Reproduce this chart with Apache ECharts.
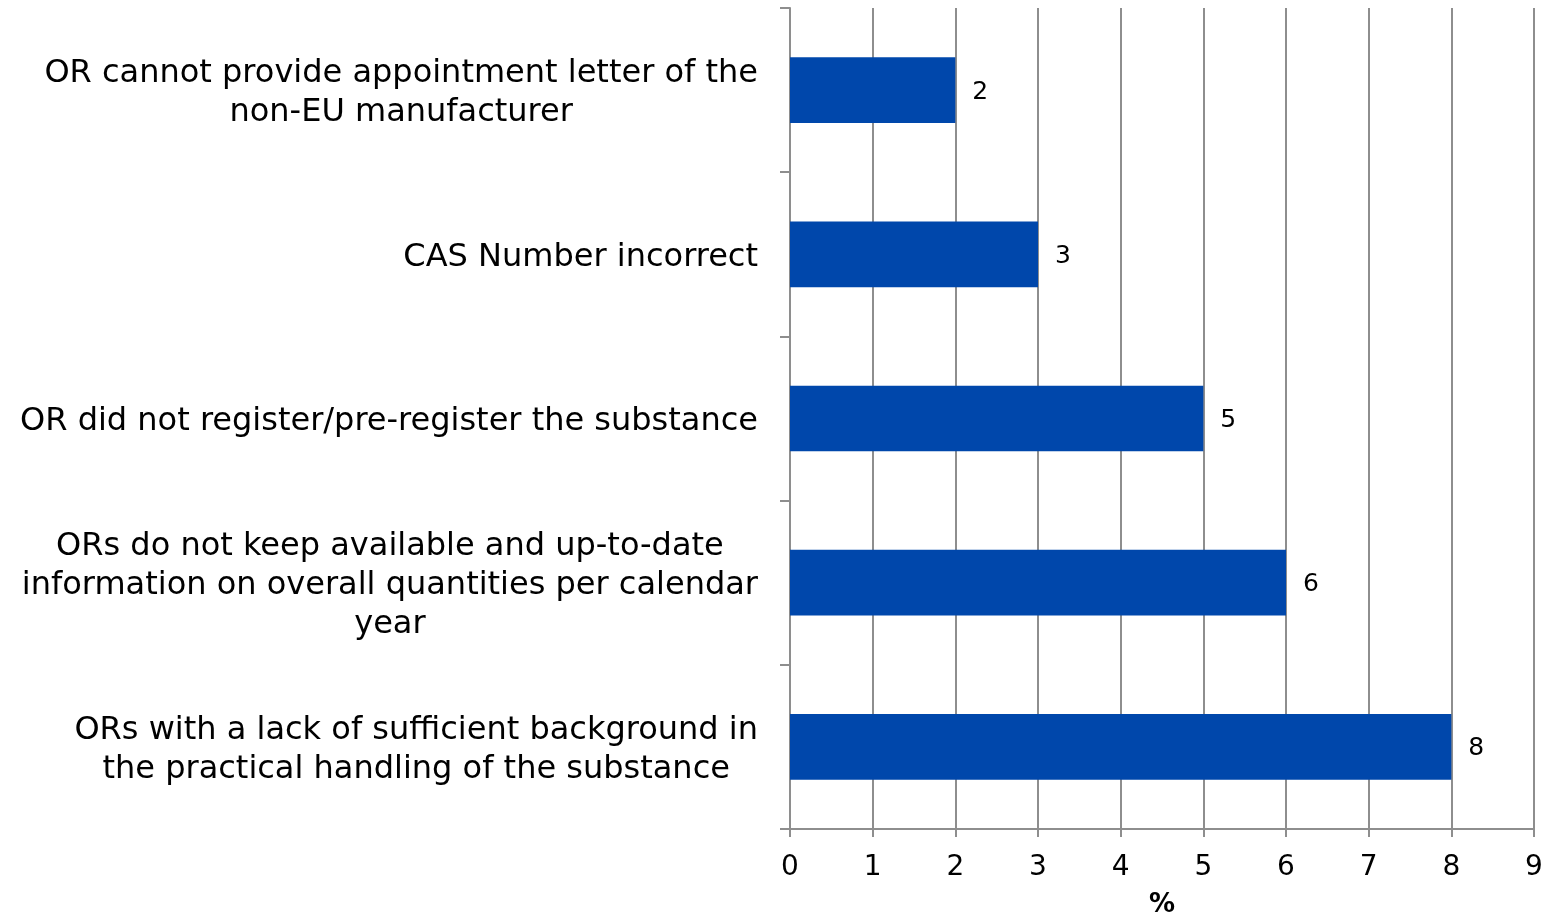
<!DOCTYPE html>
<html>
<head>
<meta charset="utf-8">
<title>OR issues</title>
<script src="https://cdn.jsdelivr.net/npm/echarts@6/dist/echarts.min.js"></script>
<style>
  html, body { margin: 0; padding: 0; background: #fff; }
  #chart { width: 1551px; height: 914px; }
</style>
</head>
<body>
<div id="chart"></div>
<script>
// categories, top to bottom
const categories = [
  'OR cannot provide appointment letter of the\nnon-EU manufacturer',
  'CAS Number incorrect',
  'OR did not register/pre-register the substance',
  'ORs do not keep available and up-to-date\ninformation on overall quantities per calendar\nyear',
  'ORs with a lack of sufficient background in\nthe practical handling of the substance'
]
const values = [2, 3, 5, 6, 8]
const axisMin = 0
const axisMax = 9
const axisName = '%'

const gridColor = '#8e8e8e'
const barColor = '#0047ab'
const fontFamily = '"DejaVu Sans", Verdana, sans-serif'

const chart = echarts.init(document.getElementById('chart'))

const option = {
  animation: false,
  backgroundColor: '#fff',
  grid: {
    left: 790,
    right: 17,
    top: 8,
    bottom: 85,
    outerBoundsMode: 'none'
  },
  xAxis: {
    type: 'value',
    min: axisMin,
    max: axisMax,
    interval: 1,
    name: axisName,
    nameLocation: 'middle',
    nameGap: 63,
    nameTextStyle: {
      fontFamily: fontFamily,
      fontSize: 26,
      fontWeight: 'bold',
      color: '#000'
    },
    axisLine: { show: true, lineStyle: { color: gridColor, width: 2 } },
    axisTick: { show: true, length: 8, lineStyle: { color: gridColor, width: 2 } },
    axisLabel: {
      margin: 25,
      fontFamily: fontFamily,
      fontSize: 28,
      color: '#000'
    },
    splitLine: { show: true, lineStyle: { color: gridColor, width: 2 } }
  },
  yAxis: {
    type: 'category',
    inverse: true,
    data: categories,
    axisLine: { show: true, lineStyle: { color: gridColor, width: 2 } },
    axisTick: { show: true, length: 10, lineStyle: { color: gridColor, width: 2 } },
    axisLabel: {
      margin: 32,
      align: 'right',
      padding: [6, 0, 0, 0],
      fontFamily: fontFamily,
      fontSize: 32,
      color: '#000',
      lineHeight: 39,
      formatter: function (v) {
        // centre every line within the label block
        return v.split('\n').map(function (s) { return '{c|' + s + '}' }).join('\n')
      },
      rich: {
        c: {
          align: 'center',
          fontFamily: fontFamily,
          fontSize: 32,
          lineHeight: 39,
          color: '#000'
        }
      }
    },
    splitLine: { show: false }
  },
  series: [
    {
      type: 'bar',
      data: values,
      barWidth: '40%',
      itemStyle: { color: barColor },
      label: {
        show: true,
        position: 'right',
        distance: 17,
        offset: [0, 2],
        fontFamily: fontFamily,
        fontSize: 25,
        color: '#000'
      }
    }
  ]
}

chart.setOption(option)
</script>
</body>
</html>
